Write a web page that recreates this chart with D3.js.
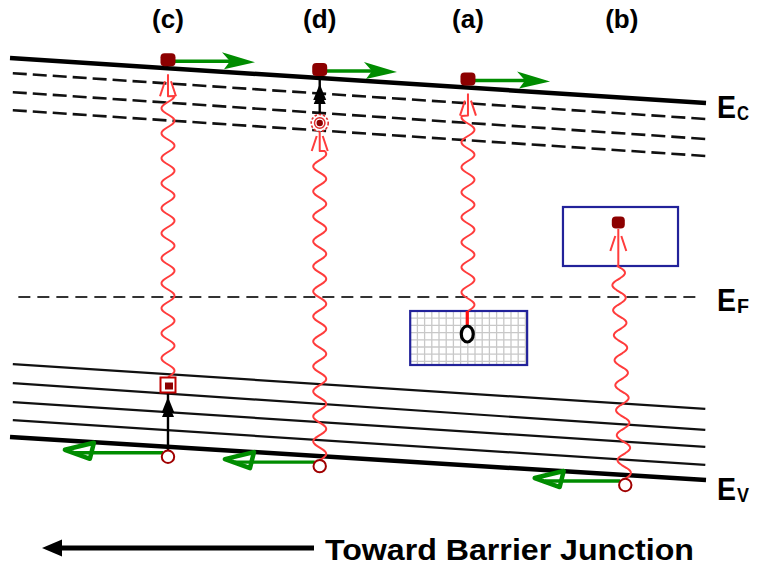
<!DOCTYPE html>
<html>
<head>
<meta charset="utf-8">
<script src="https://cdn.jsdelivr.net/npm/d3@7"></script>
<style>
  html, body { margin: 0; padding: 0; background: #fff; }
  svg { display: block; }
  text { font-family: "Liberation Sans", Arial, sans-serif; font-weight: bold; fill: #000; }
</style>
</head>
<body>
<svg id="chart" width="759" height="566"></svg>
<script>
// ---- Band levels (energy at the left end, pos 0, and right end, pos 100) ----
const bandNames = ["Ec", "cTail1", "cTail2", "cTail3", "Ef", "vTail1", "vTail2", "vTail3", "vTail4", "Ev"];
const bandKind  = ["edge", "dash", "dash", "dash", "fermi", "solid", "solid", "solid", "solid", "edge"];
const bandLeft  = [110.5, 106.75, 102.0, 97.5, 50.75, 34.0, 29.25, 24.5, 20.0, 15.75];
const bandRight = [99.25, 95.25, 90.25, 86.0, 50.75, 22.75, 17.5, 13.25, 8.75, 5.0];
const bandFrom  = [0, 0.4, 0.4, 0.4, 1.2, 0.4, 0.4, 0.4, 0.4, 0];
const bandTo    = [100, 99.9, 99.9, 99.9, 99.1, 99.9, 99.9, 99.9, 99.9, 100];

// ---- Edge labels ----
const edgeLabelMain = ["E", "E", "E"];
const edgeLabelSub  = ["C", "F", "V"];
const edgeLabelBand = ["Ec", "Ef", "Ev"];

// ---- Transitions (c), (d), (a), (b) ----
const transLabel     = ["(c)", "(d)", "(a)", "(b)"];
const transPos       = [22.7, 44.5, 65.8, 87.9];
const photonPosLow   = [22.7, 44.5, 65.8, 88.3];
const photonPosHigh  = [22.7, 44.5, 65.8, 87.4];
const photonLowE     = [28.75, 10.97, 47.25, 6.24];   // start level of each photon
const photonHighE    = [107.95, 94.25, 103.1, 69.25]; // end level of each photon
const photonLowKind  = ["trap", "hole", "box", "hole"];
const photonHighKind = ["electron", "target", "electron", "electron"];

// Electrons on Ec and their drift (arrow tip) positions
const ecElectronPos = [22.7, 44.5, 65.8];
const ecDriftTip    = [35.2, 55.6, 77.6];
// Holes on Ev and their drift (arrow tip) positions
const evHolePos     = [22.7, 44.5, 88.4];
const evDriftTip    = [7.6, 30.6, 75.1];

// Defect clusters (boxes)
const boxPosFrom = [57.5, 79.45];
const boxPosTo   = [74.3, 95.98];
const boxTopE    = [47.25, 73.25];
const boxBotE    = [33.75, 58.5];
const boxGrid    = [true, false];

// Localised states
const trapPos = 22.7,   trapE = 28.75;    // (c) valence-tail trap
const targetPos = 44.5, targetE = 94.25;  // (d) conduction-tail state
const defectPos = 65.7, defectE = 41.5;   // (a) deep hole state
const boxElectronPos = 87.4, boxElectronE = 69.25; // (b) trapped electron

const footerText = "Toward Barrier Junction";

// ---- Scales ----
const x = d3.scaleLinear().domain([0, 100]).range([10, 706]);
const y = d3.scaleLinear().domain([0, 125]).range([500, 0]);
const bandAt = (name, p) => {
  const i = bandNames.indexOf(name);
  return bandLeft[i] + (bandRight[i] - bandLeft[i]) * p / 100;
};

const svg = d3.select("#chart");
svg.append("rect").attr("width", 759).attr("height", 566).attr("fill", "#fff");

const RED = "#ff3c3c", DARKRED = "#8c0000", GREEN = "#008c00", NAVY = "#22229a";

// ---- Band lines ----
const bandG = svg.append("g");
bandNames.forEach((name, i) => {
  const l = bandG.append("line")
    .attr("x1", x(bandFrom[i])).attr("x2", x(bandTo[i]))
    .attr("y1", y(bandAt(name, bandFrom[i]))).attr("y2", y(bandAt(name, bandTo[i])))
    .attr("stroke", "#000");
  if (bandKind[i] === "edge") l.attr("stroke-width", 4.5);
  else if (bandKind[i] === "dash") l.attr("stroke-width", 2.6).attr("stroke", "#111").attr("stroke-dasharray", "14,6");
  else if (bandKind[i] === "fermi") l.attr("stroke-width", 2.2).attr("stroke", "#333").attr("stroke-dasharray", "12,7");
  else l.attr("stroke-width", 2.2).attr("stroke", "#111");
});

// ---- Defect boxes ----
boxPosFrom.forEach((p0, i) => {
  const bx0 = x(p0), bx1 = x(boxPosTo[i]), by0 = y(boxTopE[i]), by1 = y(boxBotE[i]);
  const g = svg.append("g");
  g.append("rect").attr("x", bx0).attr("y", by0).attr("width", bx1 - bx0).attr("height", by1 - by0)
    .attr("fill", "#fff");
  if (boxGrid[i]) {
    const step = 7.2;
    d3.range(bx0 + step, bx1 - 1, step).forEach(gx => {
      g.append("line").attr("x1", gx).attr("x2", gx).attr("y1", by0).attr("y2", by1)
        .attr("stroke", "#c8c8c8").attr("stroke-width", 1.3);
    });
    d3.range(by0 + step, by1 - 1, step).forEach(gy => {
      g.append("line").attr("x1", bx0).attr("x2", bx1).attr("y1", gy).attr("y2", gy)
        .attr("stroke", "#c8c8c8").attr("stroke-width", 1.3);
    });
  }
  g.append("rect").attr("x", bx0).attr("y", by0).attr("width", bx1 - bx0).attr("height", by1 - by0)
    .attr("fill", "none").attr("stroke", NAVY).attr("stroke-width", 2.2);
});

// ---- Photons (wavy red arrows) ----
const wave = d3.line();
const photonG = svg.append("g");
transPos.forEach((p, i) => {
  const xl = x(photonPosLow[i]), xh = x(photonPosHigh[i]);
  const yLowC = y(photonLowE[i]), yHighC = y(photonHighE[i]);
  let yStart = yLowC;
  if (photonLowKind[i] === "trap") yStart = yLowC - 8;
  if (photonLowKind[i] === "hole") yStart = y(photonLowE[i]) + 4;
  const yEnd = yHighC + (photonHighKind[i] === "target" ? 9 : 6);
  const waveTop = yHighC + (i === 3 ? 43 : 28);
  const lam = 25, amp = 6.5;
  const pts = d3.range(yStart, waveTop - 0.5, -1).map(yy => {
    const t = (yStart - yy) / (yStart - waveTop);
    const cx = xl + (xh - xl) * t;
    return [cx + amp * Math.sin(2 * Math.PI * (yStart - yy) / lam), yy];
  });
  pts.push([xh, waveTop]);
  pts.push([xh, yEnd]);
  photonG.append("path").attr("d", wave(pts)).attr("fill", "none")
    .attr("stroke", RED).attr("stroke-width", 2).attr("stroke-linejoin", "round");
  // open arrowhead strokes
  [-1, 1].forEach(s => {
    photonG.append("line")
      .attr("x1", xh + s * 8).attr("y1", yHighC + 28)
      .attr("x2", xh + s * 3).attr("y2", yHighC + 13)
      .attr("stroke", RED).attr("stroke-width", 2);
  });
});

// (a) red stem from deep state up to box edge
svg.append("line").attr("x1", x(defectPos)).attr("x2", x(defectPos))
  .attr("y1", y(boxTopE[0])).attr("y2", y(defectE) - 7)
  .attr("stroke", "#ff1010").attr("stroke-width", 3.2);
svg.append("ellipse").attr("cx", x(defectPos)).attr("cy", y(defectE))
  .attr("rx", 6).attr("ry", 8).attr("fill", "#fff").attr("stroke", "#000").attr("stroke-width", 3.2);

// ---- Black relaxation arrows ----
function blackArrow(px, yFrom, yTo, tipY) {
  const g = svg.append("g");
  g.append("line").attr("x1", px).attr("x2", px).attr("y1", yFrom).attr("y2", yTo)
    .attr("stroke", "#000").attr("stroke-width", 2.4);
  g.append("path").attr("d", `M${px},${tipY} L${px - 6.5},${tipY + 16} L${px + 6.5},${tipY + 16} Z`)
    .attr("fill", "#000");
  g.append("path").attr("d", `M${px},${tipY + 6} L${px - 6},${tipY + 20} L${px + 6},${tipY + 20} Z`)
    .attr("fill", "#000");
}
// (c): hole on Ev up to valence-tail trap
blackArrow(x(trapPos), y(bandAt("Ev", trapPos)) + 4, y(trapE) + 7, y(trapE) + 12);
// (d): conduction-tail state up to Ec
blackArrow(x(targetPos), y(targetE) - 9, y(bandAt("Ec", targetPos)), y(bandAt("Ec", targetPos)) + 6);

// ---- Drift arrows (green) ----
ecElectronPos.forEach((p, i) => {
  const ey = y(bandAt("Ec", p)) - 8 + 1;
  const tx = x(ecDriftTip[i]);
  svg.append("line").attr("x1", x(p) + 6).attr("x2", tx - 25).attr("y1", ey).attr("y2", ey)
    .attr("stroke", GREEN).attr("stroke-width", 3.5);
  svg.append("path").attr("d", `M${tx},${ey + 1} L${tx - 33},${ey - 9} L${tx - 25},${ey} L${tx - 31},${ey + 8} Z`)
    .attr("fill", GREEN);
});
evHolePos.forEach((p, i) => {
  const hy = y(bandAt("Ev", p)) + 10 - 4;
  const tx = x(evDriftTip[i]);
  svg.append("line").attr("x1", x(p) - 5).attr("x2", tx + 12).attr("y1", hy).attr("y2", hy)
    .attr("stroke", GREEN).attr("stroke-width", 3.4);
  svg.append("path").attr("d", `M${tx + 2},${hy - 3} L${tx + 31},${hy - 10} L${tx + 27},${hy + 6} Z`)
    .attr("fill", "none").attr("stroke", GREEN).attr("stroke-width", 4.5).attr("stroke-linejoin", "round");
});

// ---- Carriers ----
ecElectronPos.forEach(p => {
  svg.append("rect").attr("x", x(p) - 7.5).attr("y", y(bandAt("Ec", p)) - 15)
    .attr("width", 15).attr("height", 13).attr("rx", 4).attr("fill", DARKRED);
});
svg.append("rect").attr("x", x(boxElectronPos) - 6.5).attr("y", y(boxElectronE) - 6.5)
  .attr("width", 13).attr("height", 12).attr("rx", 4).attr("fill", DARKRED);
evHolePos.forEach(p => {
  svg.append("circle").attr("cx", x(p)).attr("cy", y(bandAt("Ev", p)) + 10).attr("r", 6.2)
    .attr("fill", "#fff").attr("stroke", "#a00000").attr("stroke-width", 2);
});
// (c) trap
svg.append("rect").attr("x", x(trapPos) - 7.5).attr("y", y(trapE) - 7.5).attr("width", 15).attr("height", 15)
  .attr("fill", "#fff").attr("stroke", "#c00000").attr("stroke-width", 2);
svg.append("rect").attr("x", x(trapPos) - 3).attr("y", y(trapE) - 2.5).attr("width", 8).attr("height", 7)
  .attr("fill", DARKRED);
// (d) conduction-tail state
svg.append("circle").attr("cx", x(targetPos)).attr("cy", y(targetE)).attr("r", 8.5)
  .attr("fill", "#fff").attr("stroke", "#e03030").attr("stroke-width", 1.6).attr("stroke-dasharray", "2.5,1.8");
svg.append("circle").attr("cx", x(targetPos)).attr("cy", y(targetE)).attr("r", 5.2)
  .attr("fill", "none").attr("stroke", "#e03030").attr("stroke-width", 1.5);
svg.append("circle").attr("cx", x(targetPos)).attr("cy", y(targetE)).attr("r", 3.2).attr("fill", DARKRED);

// ---- Labels ----
transLabel.forEach((t, i) => {
  svg.append("text").attr("x", x(transPos[i])).attr("y", 28).attr("text-anchor", "middle")
    .attr("font-size", 26).text(t);
});
const edgeOffset = [15, 14, 20];
edgeLabelMain.forEach((t, i) => {
  const by = y(bandAt(edgeLabelBand[i], 100)) + edgeOffset[i];
  svg.append("text").attr("x", 717).attr("y", by).attr("font-size", 32)
    .attr("textLength", 19).attr("lengthAdjust", "spacingAndGlyphs").text(t);
  svg.append("text").attr("x", 737).attr("y", by + 2).attr("font-size", 21)
    .attr("textLength", 12).attr("lengthAdjust", "spacingAndGlyphs").text(edgeLabelSub[i]);
});

// ---- Footer arrow ----
svg.append("line").attr("x1", 55).attr("x2", 314).attr("y1", 548).attr("y2", 548)
  .attr("stroke", "#000").attr("stroke-width", 5);
svg.append("path").attr("d", "M42,548 L62,539.5 L62,556.5 Z").attr("fill", "#000");
svg.append("text").attr("x", 325).attr("y", 560).attr("font-size", 30)
  .attr("textLength", 369).attr("lengthAdjust", "spacingAndGlyphs").text(footerText);
</script>
</body>
</html>
